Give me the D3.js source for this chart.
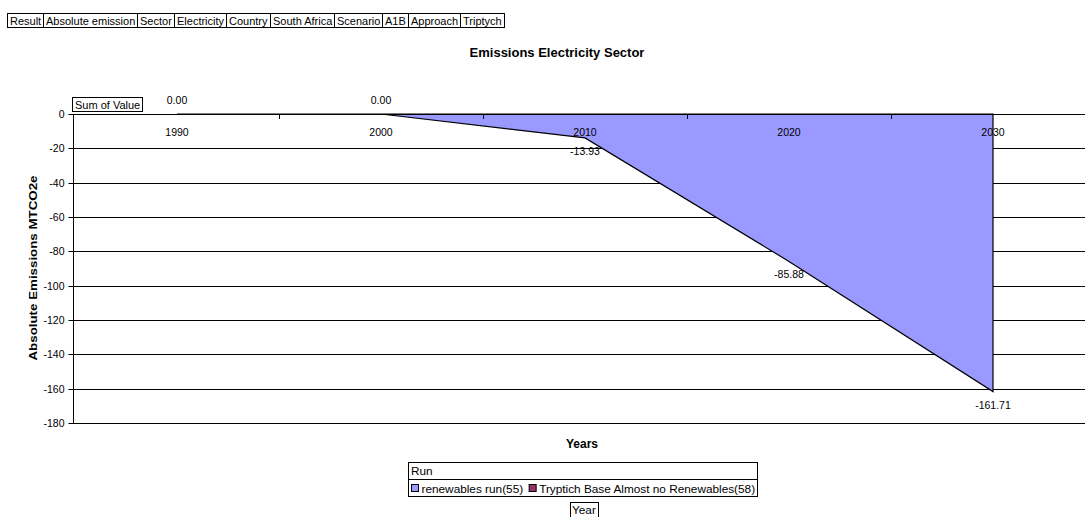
<!DOCTYPE html>
<html>
<head>
<meta charset="utf-8">
<script src="https://cdn.jsdelivr.net/npm/d3@7"></script>
<style>
  html, body { margin: 0; padding: 0; background: #fff; }
  svg { display: block; font-family: "Liberation Sans", Arial, sans-serif; }
</style>
</head>
<body>
<svg id="chart" width="1085" height="517"></svg>
<script>
// ---- data ----
const years = ["1990", "2000", "2010", "2020", "2030"];
const renewablesRun = [0.00, 0.00, -13.93, -85.88, -161.71];
const yTickValues = [0, -20, -40, -60, -80, -100, -120, -140, -160, -180];
const filterItems = ["Result", "Absolute emission", "Sector", "Electricity", "Country",
                     "South Africa", "Scenario", "A1B", "Approach", "Triptych"];
const seriesNames = ["renewables run(55)", "Tryptich Base Almost no Renewables(58)"];
const seriesColors = ["#9999FF", "#993366"];
const chartTitle = "Emissions Electricity Sector";
const yTitle = "Absolute Emissions MTCO2e";
const xTitle = "Years";

// ---- layout ----
const svg = d3.select("#chart");
const plot = { left: 73, right: 1095, top: 114, bottom: 423 };
const loc = d3.formatLocale({ decimal: ".", thousands: ",", grouping: [3], currency: ["", ""], minus: "-" });
const fmt2 = loc.format(".2f");
const fmtInt = loc.format("d");

const x = d3.scaleBand().domain(years).range([75, 1095]).padding(0);
const y = d3.scaleLinear().domain([-180, 0]).range([plot.bottom, plot.top]);
const cx = d => x(d) + x.bandwidth() / 2;
const crisp = v => Math.round(v) + 0.5;

// ---- filter boxes at top ----
const fg = svg.append("g");
let fx = 7.5;
filterItems.forEach(t => {
  const txt = fg.append("text").attr("y", 24.5).attr("font-size", 11).attr("fill", "#000").text(t);
  const w = txt.node().getComputedTextLength();
  txt.attr("x", fx + 2.5);
  fg.insert("rect", "text").attr("x", fx).attr("y", 13.5).attr("width", Math.round(w + 5)).attr("height", 14)
    .attr("fill", "none").attr("stroke", "#000").attr("stroke-width", 1);
  fx += Math.round(w + 5);
});

// ---- title ----
svg.append("text").attr("x", 557).attr("y", 57).attr("text-anchor", "middle")
  .attr("font-size", 13).attr("font-weight", "bold").text(chartTitle);

// ---- gridlines ----
svg.append("g").selectAll("line").data(yTickValues.filter(v => v !== 0)).join("line")
  .attr("x1", plot.left).attr("x2", 1085)
  .attr("y1", d => crisp(y(d))).attr("y2", d => crisp(y(d)))
  .attr("stroke", "#000").attr("stroke-width", 1);

// ---- area ----
const pts = years.map((yr, i) => ({ yr, v: renewablesRun[i] }));
const area = d3.area().x(d => cx(d.yr)).y0(y(0)).y1(d => y(d.v));
svg.append("path").datum(pts).attr("d", area)
  .attr("fill", seriesColors[0]).attr("stroke", "#000").attr("stroke-width", 1.2)
  .attr("stroke-linejoin", "miter");

// ---- y axis ----
const yAxis = d3.axisLeft(y).tickValues(yTickValues).tickSize(5).tickPadding(4).tickFormat(fmtInt);
const yg = svg.append("g").attr("transform", `translate(${crisp(plot.left)},0)`).call(yAxis);
yg.select(".domain").attr("stroke", "#000").attr("d", `M0,${y(0)}V${y(-180)}`);
yg.selectAll(".tick line").attr("stroke", "#000");
yg.selectAll(".tick text").attr("font-size", 10.5).attr("fill", "#000")
  .attr("font-family", "Liberation Sans, Arial, sans-serif");
yg.selectAll(".tick").attr("transform", d => `translate(0,${crisp(y(d))})`);

// ---- x axis at 0 ----
const xg = svg.append("g");
xg.append("line").attr("x1", plot.left).attr("x2", 1085)
  .attr("y1", crisp(y(0))).attr("y2", crisp(y(0))).attr("stroke", "#000");
const boundaries = years.map(yr => x(yr)).concat([x(years[years.length - 1]) + x.bandwidth()]).slice(1);
xg.selectAll("line.tk").data(boundaries).join("line").attr("class", "tk")
  .attr("x1", d => crisp(d)).attr("x2", d => crisp(d))
  .attr("y1", y(0)).attr("y2", y(0) + 5).attr("stroke", "#000");
xg.selectAll("text").data(years).join("text")
  .attr("x", d => cx(d)).attr("y", y(0) + 22).attr("text-anchor", "middle")
  .attr("font-size", 10.5).text(d => d);

// ---- data labels ----
svg.append("g").selectAll("text").data(pts).join("text")
  .attr("x", d => cx(d.yr))
  .attr("y", d => d.v < 0 ? y(d.v) + 17 : y(d.v) - 10)
  .attr("text-anchor", "middle").attr("font-size", 10.5).attr("fill", "#000")
  .text(d => fmt2(d.v));

// ---- Sum of Value box ----
const sv = svg.append("g");
const svt = sv.append("text").attr("x", 75).attr("y", 108.5).attr("font-size", 11).text("Sum of Value");
const svw = svt.node().getComputedTextLength();
sv.insert("rect", "text").attr("x", 72.5).attr("y", 97.5).attr("width", Math.round(svw + 5)).attr("height", 14)
  .attr("fill", "#fff").attr("stroke", "#000");

// ---- axis titles ----
svg.append("text").attr("transform", "translate(37,268) rotate(-90)").attr("text-anchor", "middle")
  .attr("font-size", 11.5).attr("font-weight", "bold")
  .attr("textLength", 185).attr("lengthAdjust", "spacingAndGlyphs").text(yTitle);
svg.append("text").attr("x", 582).attr("y", 448).attr("text-anchor", "middle")
  .attr("font-size", 12).attr("font-weight", "bold").text(xTitle);

// ---- legend ----
const lg = svg.append("g");
const lx = 408.5, lw = 349;
lg.append("rect").attr("x", lx).attr("y", 462.5).attr("width", lw).attr("height", 17).attr("fill", "#fff").attr("stroke", "#000");
lg.append("rect").attr("x", lx).attr("y", 479.5).attr("width", lw).attr("height", 17).attr("fill", "#fff").attr("stroke", "#000");
lg.append("text").attr("x", 411).attr("y", 475).attr("font-size", 11.8).text("Run");
let lxx = 411.5;
seriesNames.forEach((n, i) => {
  lg.append("rect").attr("x", lxx).attr("y", 484.5).attr("width", 7).attr("height", 7)
    .attr("fill", seriesColors[i]).attr("stroke", "#000");
  const t = lg.append("text").attr("x", lxx + 10).attr("y", 492.5).attr("font-size", 11.8).text(n);
  lxx += 10 + t.node().getComputedTextLength() + 6;
});
const yb = svg.append("g");
const ybt = yb.append("text").attr("x", 572).attr("y", 514).attr("font-size", 11.8).text("Year");
const ybw = ybt.node().getComputedTextLength();
yb.insert("rect", "text").attr("x", 570.5).attr("y", 502.5).attr("width", Math.round(ybw + 4)).attr("height", 20)
  .attr("fill", "#fff").attr("stroke", "#000");
</script>
</body>
</html>
